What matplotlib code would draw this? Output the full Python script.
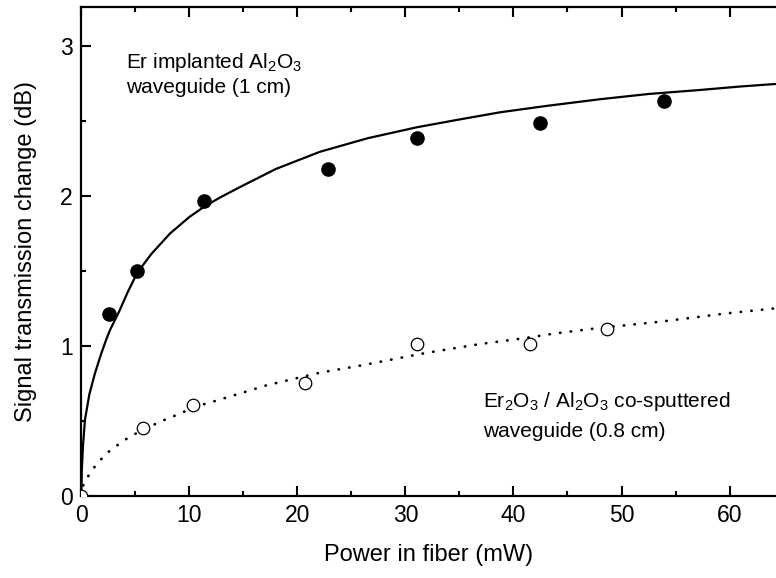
import matplotlib
matplotlib.use("Agg")
import matplotlib.pyplot as plt
from matplotlib.ticker import MultipleLocator

plt.rcParams["font.family"] = ["Liberation Sans", "DejaVu Sans"]
plt.rcParams["mathtext.fontset"] = "custom"
plt.rcParams["mathtext.rm"] = "Liberation Sans"
plt.rcParams["mathtext.it"] = "Liberation Sans"

# measured points (mW, dB)
implanted_power = [2.56, 5.19, 11.4, 22.8, 31.1, 42.5, 53.9]
implanted_change = [1.21, 1.50, 1.965, 2.18, 2.387, 2.485, 2.63]

sputtered_power = [0.0, 5.68, 10.37, 20.7, 31.1, 41.5, 48.7]
sputtered_change = [0.0, 0.455, 0.609, 0.755, 1.011, 1.011, 1.11]

# fit curves
implanted_fit_x = [0.0, 0.05, 0.15, 0.34, 0.75, 1.27, 1.8, 2.29, 2.66, 3.5, 4.3, 5.19, 6.5,
                   8.21, 10.0, 11.4, 12.84, 14.7, 18.0, 22.1, 26.5, 31.05, 34.76,
                   38.76, 43.0, 48.0, 52.5, 57.3, 61.0, 64.5]
implanted_fit_y = [0.0, 0.18, 0.33, 0.51, 0.68, 0.82, 0.94, 1.04, 1.107, 1.23, 1.36, 1.49, 1.615,
                   1.75, 1.86, 1.93, 1.99, 2.06, 2.18, 2.295, 2.385, 2.458, 2.507,
                   2.558, 2.60, 2.645, 2.68, 2.707, 2.73, 2.748]

sputtered_fit_x = [0.0, 0.19, 0.74, 1.42, 2.35, 3.37, 4.35, 5.4, 6.36, 7.29, 8.3, 9.3,
                   11.3, 12.2, 14.2, 15.2, 17.0, 19.2, 22.1, 26.1, 30.1, 32.0, 36.9,
                   40.9, 44.0, 47.7, 53.6, 59.8, 64.5]
sputtered_fit_y = [0.0, 0.073, 0.145, 0.213, 0.285, 0.34, 0.389, 0.43, 0.462, 0.496, 0.524,
                   0.556, 0.611, 0.629, 0.673, 0.695, 0.735, 0.773, 0.822, 0.873, 0.929,
                   0.955, 1.013, 1.051, 1.085, 1.118, 1.162, 1.218, 1.253]

fig = plt.figure(figsize=(7.76, 5.78), dpi=100)
ax = fig.add_axes([0.1048, 0.1419, 0.8952, 0.846])

ax.plot(implanted_fit_x, implanted_fit_y, color="black", lw=1.6, zorder=2)
ax.plot(sputtered_fit_x, sputtered_fit_y, color="black", lw=2.0,
        linestyle=(0, (0.1, 3.75)), dash_capstyle="round", zorder=2)

ax.plot(implanted_power, implanted_change, "o", color="black", ms=9.5, zorder=3)
ax.plot(sputtered_power, sputtered_change, "o", mfc="white", mec="black",
        mew=0.9, ms=9, zorder=3)

ax.set_xlim(0, 64.3)
ax.set_ylim(0, 3.26)
ax.xaxis.set_major_locator(MultipleLocator(10))
ax.xaxis.set_minor_locator(MultipleLocator(5))
ax.yaxis.set_major_locator(MultipleLocator(1))
ax.yaxis.set_minor_locator(MultipleLocator(0.5))
ax.tick_params(which="both", direction="in", top=True, right=False, width=1.5,
               labelsize=16.5, pad=6)
ax.tick_params(which="major", length=7.5)
ax.tick_params(which="minor", length=3.8)
for side in ["left", "bottom", "top"]:
    ax.spines[side].set_linewidth(1.6)
ax.spines["right"].set_visible(False)

ax.set_xlabel("Power in fiber (mW)", fontsize=17, labelpad=12)
ax.set_ylabel("Signal transmission change (dB)", fontsize=17, labelpad=17)

ax.text(4.14, 2.853, "Er implanted Al$_2$O$_3$", fontsize=15, va="baseline")
ax.text(4.14, 2.687, "waveguide (1 cm)", fontsize=15, va="baseline")
ax.text(37.17, 0.595, "Er$_2$O$_3$ / Al$_2$O$_3$ co-sputtered", fontsize=15, va="baseline")
ax.text(37.17, 0.395, "waveguide (0.8 cm)", fontsize=15, va="baseline")

fig.savefig("out.png", dpi=100)
